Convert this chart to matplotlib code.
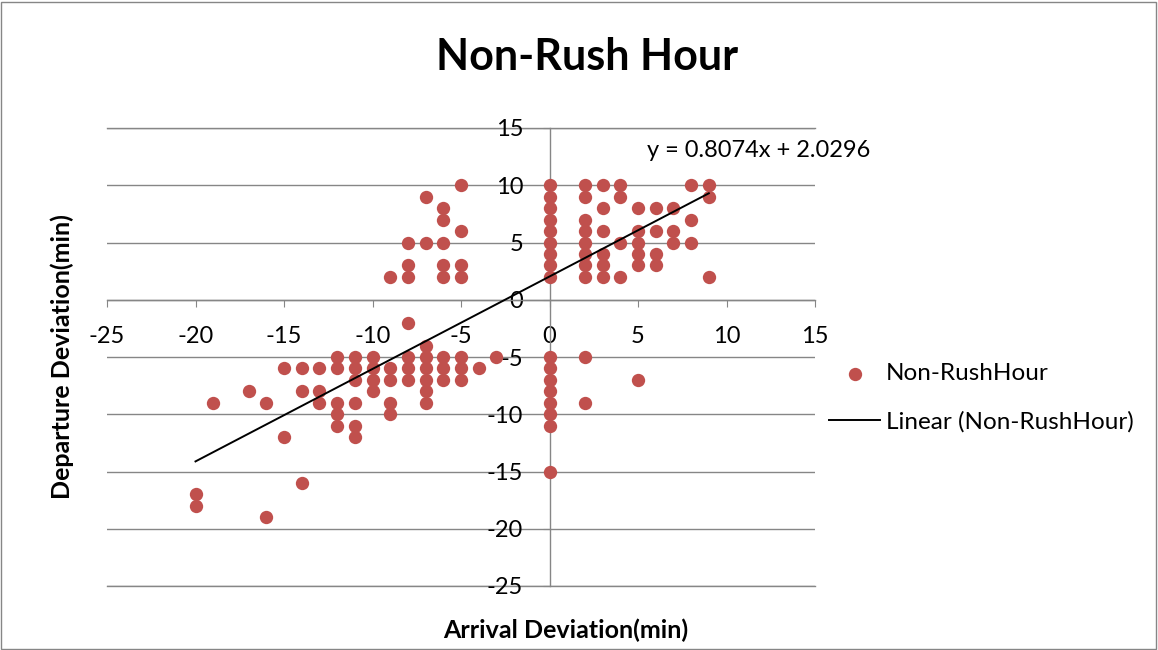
import matplotlib
matplotlib.use("Agg")
import matplotlib.pyplot as plt
from matplotlib.patches import Rectangle

plt.rcParams['font.family'] = ['Lato', 'DejaVu Sans']
plt.rcParams['axes.unicode_minus'] = False

# arrival / departure deviations (minutes), non-rush hour trips
arrival = [
    -20, -20, -19, -17, -16, -16, -15, -15, -14, -14, -14, -13, -13, -13,
    -12, -12, -12, -12, -12, -11, -11, -11, -11, -11, -11,
    -10, -10, -10, -10, -9, -9, -9, -9, -9,
    -8, -8, -8, -8, -8, -8, -8,
    -7, -7, -7, -7, -7, -7, -7, -7,
    -6, -6, -6, -6, -6, -6, -6, -6,
    -5, -5, -5, -5, -5, -5, -5, -4, -3,
    0, 0, 0, 0, 0, 0, 0, 0, 0,
    0, 0, 0, 0, 0, 0, 0, 0,
    2, 2, 2, 2, 2, 2, 2, 2, 2, 2,
    3, 3, 3, 3, 3, 3, 4, 4, 4, 4,
    5, 5, 5, 5, 5, 5, 6, 6, 6, 6,
    7, 7, 7, 8, 8, 8, 9, 9, 9,
]
departure = [
    -17, -18, -9, -8, -9, -19, -6, -12, -6, -8, -16, -6, -8, -9,
    -5, -6, -9, -10, -11, -5, -6, -7, -9, -11, -12,
    -5, -6, -7, -8, 2, -6, -7, -9, -10,
    5, 3, 2, -2, -5, -6, -7,
    9, 5, -4, -5, -6, -7, -8, -9,
    8, 7, 5, 3, 2, -5, -6, -7,
    10, 6, 3, 2, -5, -6, -7, -6, -5,
    10, 9, 8, 7, 6, 5, 4, 3, 2,
    -5, -6, -7, -8, -9, -10, -11, -15,
    10, 9, 7, 6, 5, 4, 3, 2, -5, -9,
    10, 8, 6, 4, 3, 2, 10, 9, 5, 2,
    8, 6, 5, 4, 3, -7, 8, 6, 4, 3,
    8, 6, 5, 10, 7, 5, 10, 9, 2,
]

# linear trendline coefficients
slope = 0.8074
intercept = 2.0296
trend_x = [-20, 9]

red = '#C0504D'
gray = '#868686'
fs = 17

fig = plt.figure(figsize=(11.58, 6.5), dpi=100)
ax = fig.add_axes([107 / 1158, 64 / 650, 708 / 1158, 458 / 650])

ax.scatter(arrival, departure, s=92, color=red, zorder=3, linewidths=0,
           label='Non-RushHour')
ax.plot(trend_x, [slope * x + intercept for x in trend_x], color='black',
        linewidth=1.4, zorder=4, label='Linear (Non-RushHour)')

ax.set_xlim(-25, 15)
ax.set_ylim(-25, 15)
ax.set_xticks(range(-25, 16, 5))
ax.set_yticks(range(-25, 16, 5))
ax.grid(axis='y', color=gray, linewidth=1)
# edge gridlines drawn unclipped so they keep full weight
for yv in (-25, 15):
    ax.axhline(yv, color=gray, linewidth=1, clip_on=False, zorder=0.5)
ax.set_axisbelow(True)

# axes cross at the origin
ax.spines['left'].set_position(('data', 0))
ax.spines['bottom'].set_position(('data', 0))
ax.spines['right'].set_visible(False)
ax.spines['top'].set_visible(False)
for side in ('left', 'bottom'):
    ax.spines[side].set_color(gray)
    ax.spines[side].set_linewidth(1)
ax.tick_params(axis='both', direction='out', length=5, color=gray,
               labelsize=fs)
ax.tick_params(axis='x', pad=14)
ax.tick_params(axis='y', pad=14)

fig.text(587 / 1158, 1 - 57 / 650, 'Non-Rush Hour', ha='center', va='center',
         fontsize=31, fontweight='bold')
fig.text(62 / 1158, 1 - 357 / 650, 'Departure Deviation(min)', ha='center',
         va='center', rotation=90, fontsize=18, fontweight='bold')
fig.text(566 / 1158, 1 - 630 / 650, 'Arrival Deviation(min)', ha='center',
         va='center', fontsize=18, fontweight='bold')
ax.text(5.5, 13.0, 'y = 0.8074x + 2.0296', fontsize=fs, va='center')

fig.legend(loc='center left', bbox_to_anchor=(829 / 1158, 1 - 398 / 650),
           frameon=False, fontsize=17.5, borderpad=0, handlelength=2.1,
           handletextpad=0.25, labelspacing=1.1, borderaxespad=0)

# chart area border
fig.patches.append(Rectangle((0.001, 0.0015), 0.997, 0.996,
                             transform=fig.transFigure, fill=False,
                             edgecolor=gray, linewidth=1))

fig.savefig('out.png', dpi=100)
